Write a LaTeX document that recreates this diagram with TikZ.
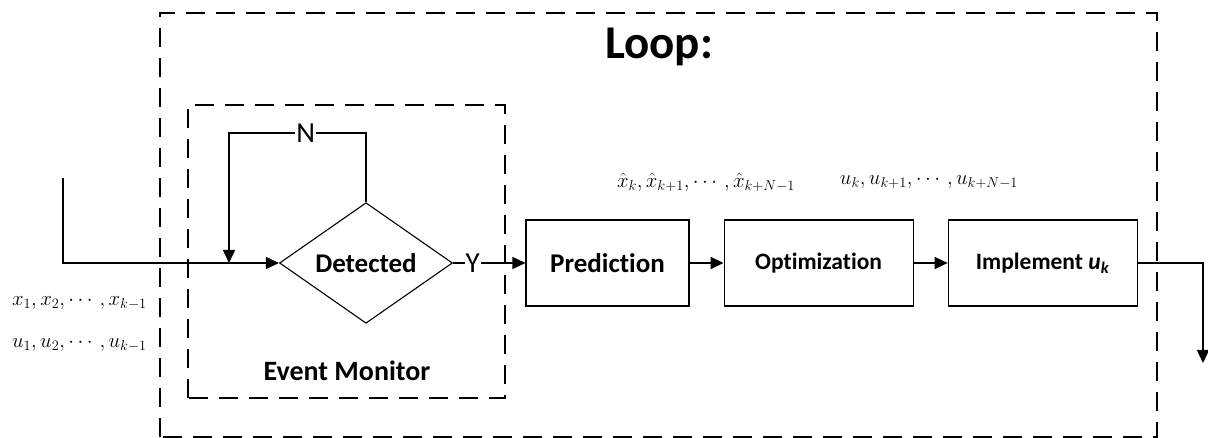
\documentclass[tikz,border=0pt]{standalone}
\usepackage{amsmath}
\usepackage[no-math]{fontspec}
\setmainfont{Carlito}[Ligatures=NoCommon]
\usetikzlibrary{arrows.meta, positioning, shapes.geometric}

\begin{document}
\begin{tikzpicture}[x=1pt, y=1pt,
    fbox/.style={rectangle, draw, line width=1.1pt, minimum height=86pt,
                  minimum width=189pt, inner sep=0pt,
                  font=\fontsize{23.5}{26}\selectfont\bfseries},
    dbox/.style={diamond, draw, line width=1.1pt, minimum width=173pt,
                  minimum height=115pt, inner sep=0pt,
                  font=\fontsize{27}{30}\selectfont\bfseries},
    frame/.style={draw, line width=2.6pt, dash pattern=on 19pt off 11pt},
    arr/.style={-{Triangle[length=13pt, width=12pt]}, line width=1.6pt},
    seq/.style={font=\fontsize{20}{24}\selectfont, inner sep=0pt},
    yn/.style={fill=white, inner sep=1pt, font=\fontsize{29}{30}\selectfont},
    node distance=34pt
  ]
    \useasboundingbox (0,0) rectangle (1208,438);

    % dashed frames
    \draw[frame] (160,1) rectangle (1157,425);
    \draw[frame] (188,40) rectangle (505,333);
    \node[font=\fontsize{47}{50}\selectfont\bfseries] (loop) at (659,391) {Loop:};
    \node[font=\fontsize{28}{30}\selectfont\bfseries] (mon) at (347,67) {Event Monitor};

    % blocks
    \node[dbox] (det) at (366,175) {Detected};
    \node[fbox, minimum width=163pt, font=\fontsize{27}{30}\selectfont\bfseries]
      (pred) at (607.5,175) {Prediction};
    \node[fbox, right=of pred] (opt) {Optimization};
    \node[fbox, right=of opt] (impl) {Implement \textit{u}\textsubscript{\textit{k}}};

    % sequences
    \node[seq, anchor=east] (xs) at (147,135) {$x_1, x_2, \cdots, x_{k-1}$};
    \node[seq, anchor=east] (us) at (147,93) {$u_1, u_2, \cdots, u_{k-1}$};
    \node[seq] (xh) at (706,256) {$\hat{x}_k, \hat{x}_{k+1}, \cdots, \hat{x}_{k+N-1}$};
    \node[seq] (uk) at (929,256) {$u_k, u_{k+1}, \cdots, u_{k+N-1}$};

    \coordinate (in) at (63,260);
    \coordinate (join) at (229,175);
    \coordinate (out) at (1203,75);

    % connectors
    \draw[arr] (in) |- (det.west);
    \draw[arr] (det.north) |- (229,305) node[yn, pos=0.72] {N} -- (join);
    \draw[arr] (det.east) -- (pred.west) node[yn, pos=0.27] {Y};
    \draw[arr] (pred) -- (opt);
    \draw[arr] (opt) -- (impl);
    \draw[arr] (impl.east) -| (out);
  \end{tikzpicture}
\end{document}
